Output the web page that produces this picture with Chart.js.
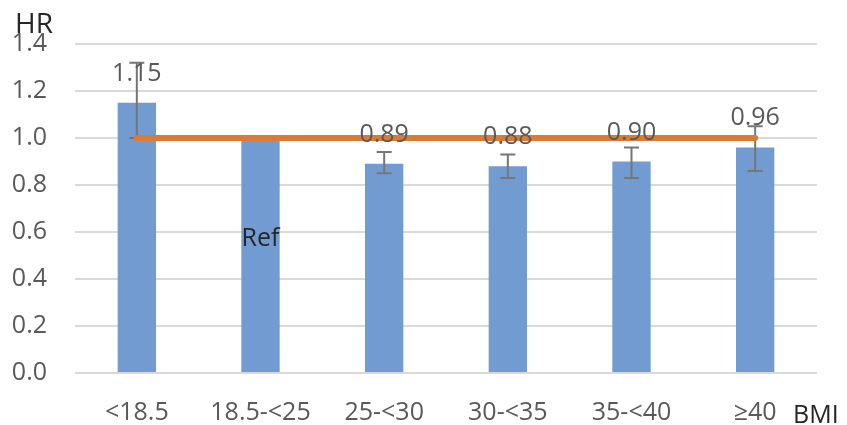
<!DOCTYPE html>
<html>
<head>
<meta charset="utf-8">
<script src="https://cdn.jsdelivr.net/npm/chart.js@4/dist/chart.umd.min.js"></script>
<style>
  html, body { margin: 0; padding: 0; background: #fff; }
  #wrap { position: relative; width: 847px; height: 425px; }
</style>
</head>
<body>
<div id="wrap"><canvas id="chart"></canvas></div>
<script>
var categories = ['<18.5', '18.5-<25', '25-<30', '30-<35', '35-<40', '\u226540'];
var hr = [1.15, 1.00, 0.89, 0.88, 0.90, 0.96];
var ciLow = [1.00, null, 0.85, 0.83, 0.83, 0.86];
var ciHigh = [1.32, null, 0.94, 0.93, 0.96, 1.05];
var refLine = [1, 1, 1, 1, 1, 1];
var valueLabels = ['1.15', '', '0.89', '0.88', '0.90', '0.96'];
var refIndex = 1;
var yTicks = [0, 0.2, 0.4, 0.6, 0.8, 1.0, 1.2, 1.4];

var FONT = '"Open Sans", sans-serif';
var GREY = '#595959';

// error bars, drawn right after the bars so the orange line sits on top
var errorBars = {
  id: 'errorBars',
  afterDatasetDraw: function(chart, args) {
    if (args.index !== 0) return;
    var ctx = chart.ctx;
    var y = chart.scales.y;
    var meta = chart.getDatasetMeta(0);
    ctx.save();
    ctx.strokeStyle = '#767676';
    ctx.lineWidth = 2;
    meta.data.forEach(function(bar, i) {
      if (ciLow[i] === null) return;
      var lo = y.getPixelForValue(ciLow[i]);
      var hi = y.getPixelForValue(ciHigh[i]);
      ctx.beginPath();
      ctx.moveTo(bar.x, lo); ctx.lineTo(bar.x, hi);
      ctx.moveTo(bar.x - 7.5, lo); ctx.lineTo(bar.x + 7.5, lo);
      ctx.moveTo(bar.x - 7.5, hi); ctx.lineTo(bar.x + 7.5, hi);
      ctx.stroke();
    });
    ctx.restore();
  }
};

var textLabels = {
  id: 'textLabels',
  afterDraw: function(chart) {
    var ctx = chart.ctx;
    var y = chart.scales.y;
    var meta = chart.getDatasetMeta(0);
    ctx.save();
    ctx.font = '25px ' + FONT;
    ctx.textAlign = 'center';
    ctx.textBaseline = 'alphabetic';
    ctx.fillStyle = GREY;
    meta.data.forEach(function(bar, i) {
      if (valueLabels[i]) ctx.fillText(valueLabels[i], bar.x, bar.y - 22);
    });
    // "Ref" on the reference bar
    ctx.fillStyle = '#262626';
    ctx.fillText('Ref', meta.data[refIndex].x, y.getPixelForValue(0.54));
    // axis titles
    ctx.textAlign = 'left';
    ctx.font = '28px ' + FONT;
    ctx.fillText('HR', 15, 33);
    ctx.font = '25px ' + FONT;
    ctx.fillText('BMI', 793, 423);
    ctx.restore();
  }
};

new Chart(document.getElementById('chart'), {
  data: {
    labels: categories,
    datasets: [
      {
        type: 'bar',
        data: hr,
        backgroundColor: '#729BD2',
        barPercentage: 0.31,
        categoryPercentage: 1,
        order: 1
      },
      {
        type: 'line',
        data: refLine,
        borderColor: '#D97B35',
        borderWidth: 6,
        borderCapStyle: 'round',
        pointRadius: 0,
        order: 0
      }
    ]
  },
  options: {
    responsive: true,
    maintainAspectRatio: false,
    animation: false,
    layout: { padding: { top: 44, right: 30, left: 0, bottom: 0 } },
    plugins: { legend: { display: false }, tooltip: { enabled: false } },
    scales: {
      x: {
        grid: { display: false, drawTicks: false },
        border: { display: false },
        ticks: { color: GREY, font: { family: FONT, size: 25 }, padding: 25, maxRotation: 0 },
        afterFit: function(scale) { scale.height = 52; }
      },
      y: {
        min: 0,
        max: 1.4,
        afterBuildTicks: function(scale) {
          scale.ticks = yTicks.map(function(v) { return { value: v }; });
        },
        grid: { color: '#D9D9D9', lineWidth: 2, drawTicks: false },
        border: { display: false },
        ticks: {
          color: GREY,
          font: { family: FONT, size: 25 },
          padding: 28,
          callback: function(v) { return Number(v).toFixed(1); }
        },
        afterFit: function(scale) { scale.width = 75; }
      }
    }
  },
  plugins: [errorBars, textLabels]
});
</script>
</body>
</html>
